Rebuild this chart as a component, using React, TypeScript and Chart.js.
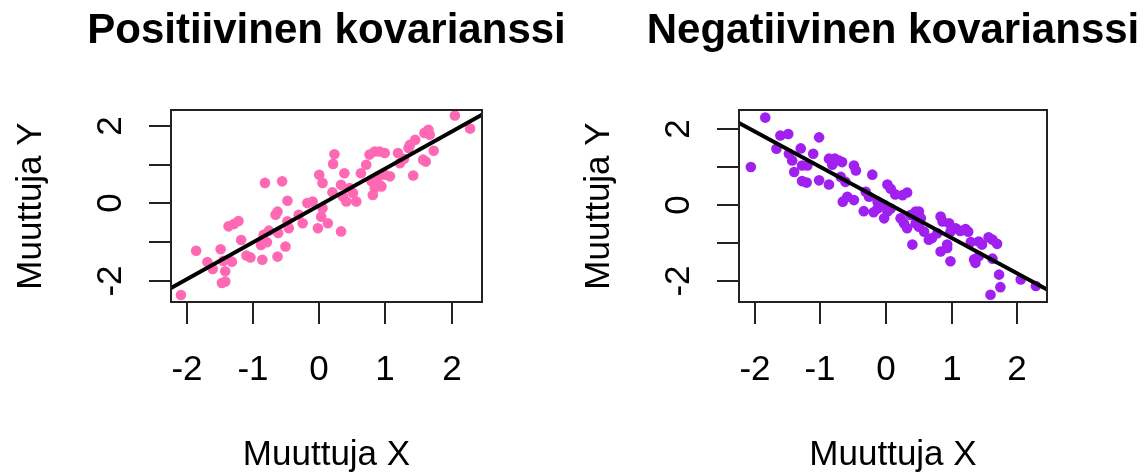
import React, { useEffect, useRef } from 'react';
import { Chart, registerables } from 'chart.js';

Chart.register(...registerables);

// ---------- data ----------
const posX = [
  -2.09, -1.86, -1.69, -1.61, -1.49, -1.45, -1.42, -1.47, -1.42, -1.32,
  -1.37, -1.29, -1.22, -1.18, -1.10, -1.04, -0.86, -0.82, -0.88, -0.79,
  -0.84, -0.76, -0.66, -0.63, -0.63, -0.56, -0.62, -0.48, -0.51, -0.48,
  -0.46, -0.31, -0.25, -0.18, -0.10, -0.02, 0.03, 0.05, 0.00, 0.05,
  0.13, 0.23, 0.21, 0.20, 0.33, 0.33, 0.36, 0.38, 0.41, 0.46,
  0.51, 0.56, 0.63, 0.71, 0.76, 0.84, 0.91, 0.99, 0.79, 0.84,
  0.81, 0.91, 0.89, 2.05, 2.28, 1.65, 1.59, 1.67, 1.45, 1.37,
  1.35, 1.73, 1.57, 1.61, 1.19, 1.22, 1.28, 1.42, 1.07, 0.99,
  0.94,
];
const posY = [
  -2.36, -1.22, -1.51, -1.69, -1.18, -1.48, -1.75, -2.05, -2.01, -1.50,
  -0.59, -0.53, -0.45, -0.94, -1.34, -1.39, -1.45, 0.53, -1.07, -1.00,
  -0.81, -0.70, -0.29, -0.21, -1.37, 0.57, -0.76, 0.07, -1.11, -0.46,
  -0.64, -0.29, -0.51, 0.01, 0.05, -0.64, -0.34, -0.12, 0.74, 0.53,
  -0.51, 1.27, 1.02, 0.29, -0.72, 0.48, 0.18, 0.78, 0.05, 0.40,
  0.27, 0.05, 0.78, 1.00, 1.26, 1.34, 1.34, 1.30, 0.57, 0.40,
  0.22, 0.48, 0.70, 2.27, 1.93, 1.90, 1.82, 1.77, 1.64, 1.51,
  1.43, 1.36, 1.13, 1.08, 1.30, 1.04, 1.15, 0.72, 0.70, 0.74,
  0.44,
];
const negX = [
  -1.84, -2.06, -1.61, -1.49, -1.02, -1.67, -1.48, -1.43, -1.30, -1.40,
  -1.28, -1.20, -1.11, -1.28, -1.21, -1.02, -0.87, -0.87, -0.78, -0.82,
  -0.72, -0.67, -0.66, -0.49, -0.46, -0.69, -0.62, -0.21, -0.59, -0.49,
  -0.31, -0.26, -0.34, -0.19, -0.13, 0.02, 0.07, 0.14, 0.25, 0.32,
  -0.13, -0.03, 0.02, -0.03, 0.07, 0.22, 0.27, 0.32, 0.37, 0.45,
  0.50, 0.53, 0.40, 0.45, 0.50, 0.58, 0.65, 0.70, 0.78, 0.83,
  0.86, 0.83, 0.93, 0.96, 0.98, 0.98, 1.06, 1.13, 1.21, 1.25,
  0.93, 1.29, 1.41, 1.46, 1.34, 1.36, 1.41, 1.56, 1.62, 1.69,
  1.62, 1.72, 1.74, 1.59, 2.05, 2.28,
];
const negY = [
  2.30, 1.00, 1.83, 1.87, 1.78, 1.48, 1.35, 1.17, 1.49, 0.87,
  1.04, 1.04, 1.35, 0.63, 0.59, 0.65, 0.54, 1.22, 1.22, 1.06,
  1.17, 1.13, 0.09, 1.04, 0.91, 0.74, 0.61, 0.80, 0.22, 0.13,
  0.35, 0.22, -0.16, -0.19, -0.09, 0.54, 0.43, 0.28, 0.26, 0.33,
  0.09, 0.00, -0.17, -0.35, -0.09, -0.35, -0.48, -0.61, -0.26, -0.17,
  -0.17, -0.35, -1.04, -0.48, -0.57, -0.70, -0.91, -0.87, -0.74, -0.30,
  -0.43, -1.22, -1.04, -0.48, -0.70, -1.48, -0.61, -0.68, -0.63, -0.70,
  -1.13, -0.97, -0.96, -1.04, -1.43, -1.52, -1.35, -0.85, -0.91, -1.02,
  -1.41, -1.83, -2.16, -2.36, -1.96, -2.13,
];

// fitted regression lines [intercept, slope]
const posFit = [-0.05, 0.95];
const negFit = [0.067, -0.934];

// axis limits [min, max]
const posXLim = [-2.24, 2.46];
const posYLim = [-2.54, 2.41];
const negXLim = [-2.24, 2.45];
const negYLim = [-2.55, 2.5];

const xTicks = [-2, -1, 0, 1, 2];
const xTickLabels = ['-2', '-1', '0', '1', '2'];
const yTicks = [-2, -1, 0, 1, 2];
const yTickLabels = ['-2', '', '0', '', '2'];

const titles = ['Positiivinen kovarianssi', 'Negatiivinen kovarianssi'];
const xLabel = 'Muuttuja X';
const yLabel = 'Muuttuja Y';
const colors = ['#FF69B4', '#A020F0'];

const FONT = '"Liberation Sans", Arial, Helvetica, sans-serif';

const rStylePlugin = {
  id: 'rStyle',
  afterDraw(chart: any, _args: any, opts: any) {
    const { ctx, chartArea: a, scales } = chart;
    const xs = scales.x;
    const ys = scales.y;
    ctx.save();
    ctx.strokeStyle = '#222';
    ctx.lineWidth = 2;
    // box
    ctx.strokeRect(a.left, a.top, a.right - a.left, a.bottom - a.top);
    // x ticks
    ctx.fillStyle = '#000';
    ctx.font = `35px ${FONT}`;
    ctx.textAlign = 'center';
    ctx.textBaseline = 'alphabetic';
    xTicks.forEach((v, i) => {
      const px = Math.round(xs.getPixelForValue(v));
      ctx.beginPath();
      ctx.moveTo(px, a.bottom);
      ctx.lineTo(px, a.bottom + 22);
      ctx.stroke();
      ctx.fillText(xTickLabels[i], px, a.bottom + 78);
    });
    // y ticks
    yTicks.forEach((v, i) => {
      const py = Math.round(ys.getPixelForValue(v));
      ctx.beginPath();
      ctx.moveTo(a.left, py);
      ctx.lineTo(a.left - 22, py);
      ctx.stroke();
      if (yTickLabels[i]) {
        ctx.save();
        ctx.translate(a.left - 50, py);
        ctx.rotate(-Math.PI / 2);
        ctx.fillText(yTickLabels[i], 0, 0);
        ctx.restore();
      }
    });
    const cx = (a.left + a.right) / 2;
    const cy = (a.top + a.bottom) / 2;
    // axis titles
    ctx.fillText(xLabel, cx, a.bottom + 163);
    ctx.save();
    ctx.translate(a.left - 130, cy);
    ctx.rotate(-Math.PI / 2);
    ctx.fillText(yLabel, 0, 0);
    ctx.restore();
    // main title
    ctx.font = `bold 42px ${FONT}`;
    ctx.fillText(opts.title, cx, 43);
    ctx.restore();
  },
};

type PanelProps = {
  xs: number[];
  ys: number[];
  fit: number[];
  xLim: number[];
  yLim: number[];
  color: string;
  title: string;
  width: number;
  padLeft: number;
  padRight: number;
};

function Panel(p: PanelProps) {
  const ref = useRef<HTMLCanvasElement | null>(null);
  useEffect(() => {
    if (!ref.current) return;
    const points = p.xs.map((x, i) => ({ x, y: p.ys[i] }));
    const linePts = p.xLim.map((x) => ({ x, y: p.fit[0] + p.fit[1] * x }));
    const chart = new Chart(ref.current, {
      type: 'scatter',
      data: {
        datasets: [
          {
            data: linePts,
            showLine: true,
            borderColor: '#000',
            borderWidth: 4,
            pointRadius: 0,
            fill: false,
            order: 0,
          } as any,
          {
            data: points,
            backgroundColor: p.color,
            borderColor: p.color,
            borderWidth: 0,
            pointRadius: 5.3,
            pointHoverRadius: 5.3,
            order: 1,
          },
        ],
      },
      options: {
        responsive: false,
        animation: false,
        devicePixelRatio: 1,
        events: [],
        layout: { padding: { left: p.padLeft, right: p.padRight, top: 110, bottom: 170 } },
        plugins: {
          legend: { display: false },
          tooltip: { enabled: false },
          rStyle: { title: p.title },
        } as any,
        scales: {
          x: { type: 'linear', min: p.xLim[0], max: p.xLim[1], display: false },
          y: { type: 'linear', min: p.yLim[0], max: p.yLim[1], display: false },
        },
      },
      plugins: [rStylePlugin],
    });
    return () => chart.destroy();
  }, []);
  return <canvas ref={ref} width={p.width} height={472} style={{ display: 'block' }} />;
}

export default function App() {
  return (
    <div
      style={{
        position: 'fixed',
        left: 0,
        top: 0,
        width: 1144,
        height: 472,
        background: '#fff',
        overflow: 'hidden',
      }}
    >
      <div style={{ position: 'absolute', left: 0, top: 0 }}>
        <Panel
          xs={posX}
          ys={posY}
          fit={posFit}
          xLim={posXLim}
          yLim={posYLim}
          color={colors[0]}
          title={titles[0]}
          width={572}
          padLeft={171}
          padRight={90}
        />
      </div>
      <div style={{ position: 'absolute', left: 567, top: 0 }}>
        <Panel
          xs={negX}
          ys={negY}
          fit={negFit}
          xLim={negXLim}
          yLim={negYLim}
          color={colors[1]}
          title={titles[1]}
          width={577}
          padLeft={172}
          padRight={97}
        />
      </div>
    </div>
  );
}
